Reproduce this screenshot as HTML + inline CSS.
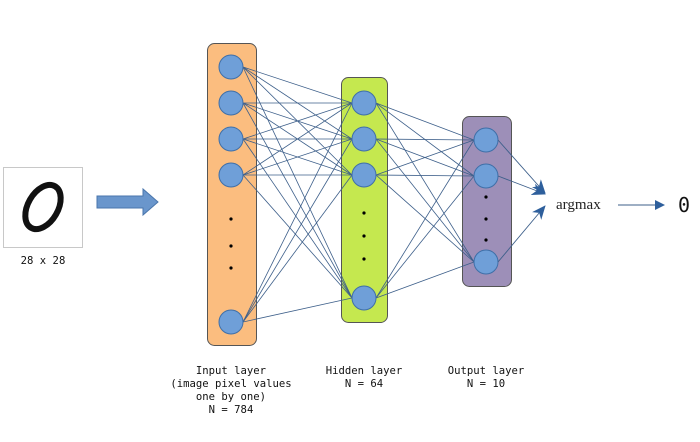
<!DOCTYPE html>
<html><head><meta charset="utf-8"><style>
html,body{margin:0;padding:0;background:#fff;width:700px;height:442px;overflow:hidden}
svg{display:block}
.m{font-family:"DejaVu Sans Mono","Liberation Mono",monospace;font-size:10.6px;fill:#111}
</style></head><body>
<svg id="s" width="700" height="442" viewBox="0 0 700 442" xmlns="http://www.w3.org/2000/svg">
<defs><marker id="ah" markerWidth="10" markerHeight="10" refX="9" refY="5" orient="auto" markerUnits="userSpaceOnUse"><path d="M0,0 L10,5 L0,10 z" fill="#2e5f9c"/></marker>
<marker id="ah2" markerWidth="14" markerHeight="12" refX="13" refY="6" orient="auto" markerUnits="userSpaceOnUse"><path d="M0,0 L14,6 L0,12 L4,6 z" fill="#2e5f9c"/></marker></defs>
<rect x="3.5" y="167.5" width="79" height="80" fill="#fff" stroke="#c8c8c8"/>
<ellipse cx="43" cy="207" rx="15" ry="24" transform="rotate(30 43 207)" fill="none" stroke="#111" stroke-width="6"/>
<text x="43" y="264" text-anchor="middle" class="m">28 x 28</text>
<path d="M97,196 L143,196 L143,189 L158,202 L143,215 L143,208 L97,208 z" fill="#6a96cc" stroke="#4a76ac" stroke-width="1"/>
<rect x="207.5" y="43.5" width="49" height="302" rx="7" fill="#fbbd7f" stroke="#555"/>
<rect x="341.5" y="77.5" width="46" height="245" rx="7" fill="#c5e84f" stroke="#555"/>
<rect x="462.5" y="116.5" width="49" height="170" rx="7" fill="#9d8fb8" stroke="#555"/>
<g id="lines" stroke="#3d5f8a" stroke-width="0.8"></g>
<g id="nodes" fill="#6f9fd8" stroke="#3f6fa8" stroke-width="1"></g>
<g fill="#000">
<circle cx="231" cy="219" r="1.6"/><circle cx="231" cy="246" r="1.6"/><circle cx="231" cy="268" r="1.6"/>
<circle cx="364" cy="213" r="1.6"/><circle cx="364" cy="236" r="1.6"/><circle cx="364" cy="259" r="1.6"/>
<circle cx="486" cy="197" r="1.6"/><circle cx="486" cy="219" r="1.6"/><circle cx="486" cy="240" r="1.6"/>
</g>
<g stroke="#3d5f8a" stroke-width="0.9" fill="none">
<line x1="498" y1="140" x2="545" y2="193" marker-end="url(#ah2)"/>
<line x1="498" y1="176" x2="545" y2="194" marker-end="url(#ah2)"/>
<line x1="498" y1="262" x2="545" y2="206" marker-end="url(#ah2)"/>
<line x1="618" y1="205" x2="664" y2="205" marker-end="url(#ah)"/>
</g>
<text x="556" y="209" font-family="Liberation Serif,serif" font-size="15" fill="#222">argmax</text>
<text x="678" y="212" font-family="DejaVu Sans Mono,monospace" font-size="20" fill="#111">0</text>
<g class="m" text-anchor="middle">
<text x="231" y="374">Input layer</text>
<text x="231" y="387">(image pixel values</text>
<text x="231" y="400">one by one)</text>
<text x="231" y="413">N = 784</text>
<text x="364" y="374">Hidden layer</text>
<text x="364" y="387">N = 64</text>
<text x="486" y="374">Output layer</text>
<text x="486" y="387">N = 10</text>
</g>
</svg>
<script>
var A=[67,103,139,175,322],B=[103,139,175,298],C=[140,176,262],r=12;
var L=document.getElementById('lines'),N=document.getElementById('nodes'),ns='http://www.w3.org/2000/svg';
function ln(x1,y1,x2,y2){var l=document.createElementNS(ns,'line');l.setAttribute('x1',x1);l.setAttribute('y1',y1);l.setAttribute('x2',x2);l.setAttribute('y2',y2);L.appendChild(l);}
A.forEach(a=>B.forEach(b=>ln(231+r,a,364-r,b)));
B.forEach(b=>C.forEach(c=>ln(364+r,b,486-r,c)));
function nd(x,y){var c=document.createElementNS(ns,'circle');c.setAttribute('cx',x);c.setAttribute('cy',y);c.setAttribute('r',r);N.appendChild(c);}
A.forEach(a=>nd(231,a));B.forEach(b=>nd(364,b));C.forEach(c=>nd(486,c));
</script>
</body></html>
